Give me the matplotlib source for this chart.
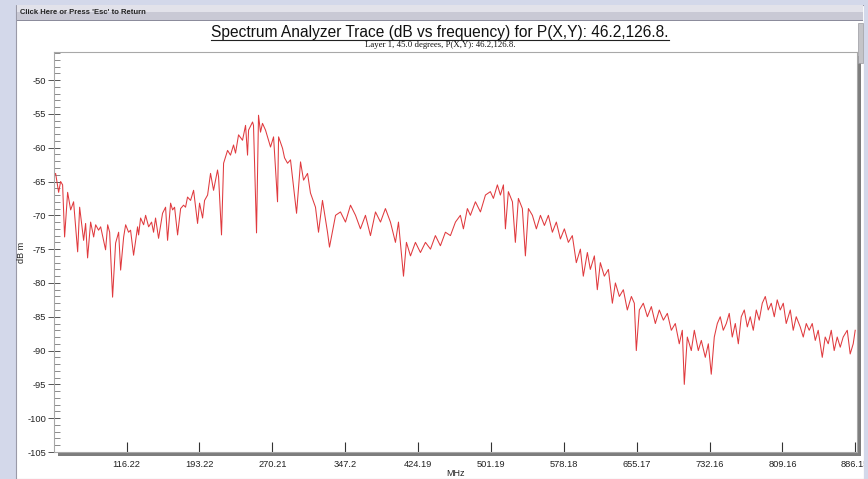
import matplotlib
matplotlib.use("Agg")
import matplotlib.pyplot as plt
from matplotlib.patches import Rectangle
from matplotlib.ticker import MultipleLocator, FixedLocator

# trace (MHz, dBm)
freq_mhz = [
    40.2, 41.2, 44.4, 46.5, 48.6, 50.7, 53.9, 57.1, 60.2, 64.5, 66.6, 70.8, 72.9, 75.0,
    78.2, 81.4, 83.5, 86.6, 88.8, 94.0, 96.2, 98.3, 101.4, 104.6, 107.8, 109.9, 113.1,
    115.2, 118.3, 120.4, 123.6, 127.8, 128.9, 131.0, 134.2, 136.3, 139.5, 142.6, 144.7,
    146.8, 150.0, 154.2, 157.4, 159.5, 162.7, 164.8, 166.9, 170.1, 173.3, 176.4, 178.5,
    180.6, 183.8, 187.0, 191.2, 193.3, 196.5, 198.6, 201.8, 204.9, 208.1, 212.3, 213.4,
    216.5, 218.7, 222.9, 226.0, 229.2, 231.3, 234.5, 238.7, 241.9, 244.0, 245.1, 249.3,
    250.3, 253.5, 255.6, 257.7, 259.8, 263.0, 265.1, 268.3, 271.5, 275.7, 276.8, 281.0,
    283.1, 286.3, 289.4, 295.8, 300.0, 303.2, 307.4, 310.5, 315.8, 319.0, 323.2, 328.5,
    330.6, 337.0, 342.2, 347.5, 352.8, 358.1, 363.3, 368.6, 373.9, 379.2, 384.5, 389.7,
    395.0, 400.3, 403.5, 408.8, 411.9, 416.2, 421.4, 426.7, 432.0, 437.3, 442.5, 447.8,
    453.1, 458.4, 463.7, 468.9, 472.1, 476.3, 479.5, 484.8, 490.1, 495.4, 500.6, 503.8,
    508.0, 511.2, 514.4, 516.5, 519.6, 523.9, 527.0, 530.2, 534.4, 537.6, 540.8, 545.0,
    549.2, 553.5, 557.7, 561.9, 566.1, 570.3, 574.6, 578.8, 583.0, 587.2, 591.4, 595.7,
    598.8, 603.1, 606.2, 610.5, 613.6, 616.8, 621.0, 625.3, 629.5, 632.7, 636.9, 641.1,
    645.3, 649.6, 652.7, 654.8, 658.0, 662.2, 666.5, 670.7, 674.9, 679.1, 683.4, 687.6,
    691.8, 696.0, 700.2, 703.4, 705.5, 708.7, 712.9, 716.1, 720.3, 723.5, 727.7, 730.9,
    734.0, 737.2, 740.4, 743.5, 746.7, 749.9, 753.0, 756.2, 759.4, 762.6, 765.7, 768.9,
    772.1, 775.2, 778.4, 781.6, 784.7, 787.9, 791.1, 794.2, 797.4, 800.6, 803.7, 806.9,
    810.1, 813.2, 817.5, 820.6, 823.8, 828.0, 831.2, 834.4, 837.5, 840.7, 843.9, 847.0,
    851.3, 854.4, 857.6, 860.8, 863.9, 867.1, 870.3, 873.4, 877.7, 880.8, 884.0, 886.1,
]
level_dbm = [
    -64.0, -63.8, -66.6, -65.0, -65.5, -73.2, -66.6, -69.2, -68.0, -75.4, -68.8, -73.7, -71.2, -76.3,
    -71.0, -73.2, -71.4, -72.2, -71.7, -75.1, -71.4, -72.5, -82.1, -74.1, -72.5, -78.1, -73.2,
    -71.4, -72.5, -72.2, -75.9, -71.7, -72.9, -70.4, -71.4, -70.0, -71.7, -71.0, -72.5,
    -70.4, -73.4, -69.7, -68.8, -73.7, -68.2, -69.2, -68.8, -72.9, -69.0, -68.5, -68.8,
    -67.3, -67.8, -66.3, -71.2, -68.2, -70.4, -67.8, -67.0, -63.8, -66.3, -63.3, -64.3,
    -72.9, -62.3, -60.4, -61.1, -59.6, -60.8, -58.1, -58.9, -56.7, -61.1, -57.4, -56.2,
    -56.7, -72.6, -55.2, -57.7, -56.4, -57.4, -58.4, -59.9, -58.4, -68.0, -58.4, -60.1,
    -61.5, -62.3, -61.8, -69.7, -62.1, -64.8, -63.8, -66.7, -68.8, -72.5, -67.8, -72.5,
    -74.7, -70.0, -69.5, -71.0, -68.5, -70.0, -72.0, -70.0, -73.0, -69.5, -71.0, -69.0,
    -71.0, -74.0, -71.0, -79.0, -74.0, -76.0, -74.0, -75.5, -74.0, -75.0, -73.0, -74.5,
    -72.5, -73.0, -71.0, -70.0, -72.0, -69.0, -70.0, -68.0, -69.5, -67.0, -66.5, -67.5,
    -65.5, -67.0, -65.5, -72.0, -66.5, -68.0, -74.0, -67.5, -69.0, -76.0, -69.0, -70.0,
    -72.0, -70.0, -71.5, -70.0, -72.5, -71.0, -73.5, -72.0, -74.0, -73.0, -77.0, -75.0,
    -79.0, -75.5, -78.0, -76.0, -81.0, -77.0, -79.0, -78.0, -83.0, -80.0, -82.0, -81.0,
    -84.0, -82.0, -83.0, -90.0, -84.0, -83.0, -85.0, -83.5, -86.0, -84.0, -85.5, -84.5,
    -87.0, -86.0, -89.0, -87.0, -95.0, -88.0, -90.0, -87.0, -90.0, -88.5, -91.0, -89.0,
    -93.5, -88.0, -86.0, -85.0, -87.0, -86.0, -84.5, -88.0, -86.0, -89.0, -85.0, -84.0,
    -86.5, -85.0, -87.0, -84.0, -85.5, -83.0, -82.0, -84.0, -83.0, -85.0, -82.5, -84.0,
    -83.0, -86.0, -84.0, -87.0, -85.0, -86.5, -88.0, -86.0, -87.0, -86.0, -88.5, -87.0,
    -91.0, -88.0, -89.0, -87.0, -90.0, -88.0, -89.5, -88.0, -87.0, -90.5, -89.0, -87.0,
]
x_ticks = [116.22, 193.22, 270.21, 347.2, 424.19, 501.19, 578.18, 655.17, 732.16, 809.16, 886.15]
x_tick_labels = ["116.22", "193.22", "270.21", "347.2", "424.19", "501.19", "578.18",
                 "655.17", "732.16", "809.16", "886.15"]

W, H = 868, 479
bg = "#d3d8ea"
plt.rcParams["font.family"] = ["Liberation Sans", "DejaVu Sans"]

fig = plt.figure(figsize=(W / 100, H / 100), dpi=100, facecolor=bg)


def px(x0, y0, w, h):
    # pixel box (top-left origin) -> figure fraction
    return (x0 / W, 1 - (y0 + h) / H, w / W, h / H)


def box(x0, y0, w, h, **kw):
    l, b, ww, hh = px(x0, y0, w, h)
    r = Rectangle((l, b), ww, hh, transform=fig.transFigure, **kw)
    fig.patches.append(r)
    return r


# window, title bar
box(16, 5, 848, 474, facecolor="white", edgecolor="#9a9aa8", lw=0.8, zorder=-3)
box(17, 5, 846, 8, facecolor="#e2e2ea", edgecolor="none", zorder=-2)
box(17, 12, 846, 8, facecolor="#c9c9d5", edgecolor="none", zorder=-2)
box(17, 20, 846, 1, facecolor="#8c8c9c", edgecolor="none", zorder=-2)
fig.text(20 / W, 1 - 13 / H, "Click Here or Press 'Esc' to Return", fontsize=5.5,
         fontweight="bold", color="#222222", va="center", ha="left")

# titles
t = fig.text(440 / W, 1 - 32 / H,
             "Spectrum Analyzer Trace (dB vs frequency) for P(X,Y): 46.2,126.8.",
             fontsize=11.2, ha="center", va="center", color="#111111")
fig.text(440 / W, 1 - 45 / H, "Layer 1, 45.0 degrees, P(X,Y): 46.2,126.8.",
         fontsize=6.3, family=["Liberation Serif", "DejaVu Serif"],
         ha="center", va="center", color="#111111")

# plot shadow + axes
box(58, 56, 803, 400, facecolor="#7d7d7d", edgecolor="none", zorder=-1)
ax = fig.add_axes(px(54, 52, 803, 400))
ax.set_facecolor("white")
ax.plot(freq_mhz, level_dbm, color="#e03a3e", lw=0.75)

ax.set_xlim(39.5, 888.0)
ax.set_ylim(-105, -45.85)
ax.xaxis.set_major_locator(FixedLocator(x_ticks))
ax.set_xticklabels(x_tick_labels)
ax.yaxis.set_major_locator(MultipleLocator(5))
ax.yaxis.set_minor_locator(MultipleLocator(1))
ax.yaxis.set_major_formatter(plt.FuncFormatter(lambda v, p: "%d" % v))

for s in ax.spines.values():
    s.set_color("#a8a8a8")
    s.set_linewidth(0.8)
ax.tick_params(axis="x", direction="in", length=7, width=0.8, color="#333333",
               labelsize=6.7, pad=6, labelcolor="#222222")
ax.tick_params(axis="y", which="major", direction="inout", length=9, width=0.7,
               color="#555555", labelsize=6.7, pad=1, labelcolor="#222222")
ax.tick_params(axis="y", which="minor", direction="in", length=4, width=0.6,
               color="#777777")

ax.set_xlabel("MHz", fontsize=6.5, color="#222222")
ax.xaxis.set_label_coords(0.5, -0.042)
ax.set_ylabel("dB m", fontsize=6.5, color="#222222")
ax.yaxis.set_label_coords(-0.035, 0.5)

# underline the title
fig.canvas.draw()
bb = t.get_window_extent().transformed(fig.transFigure.inverted())
fig.add_artist(plt.Line2D([bb.x0, bb.x1], [bb.y0 - 0.002, bb.y0 - 0.002],
                          transform=fig.transFigure, color="#222222", lw=0.8))

# scrollbar and right edge of desktop
box(858, 23, 5, 40, facecolor="#c4c4c8", edgecolor="#9a9aa0", lw=0.5, zorder=5)
box(864, 0, 4, 479, facecolor=bg, edgecolor="none", zorder=6)
box(0, 0, 868, 5, facecolor=bg, edgecolor="none", zorder=6)

fig.savefig("out.png", dpi=100, facecolor=bg)
